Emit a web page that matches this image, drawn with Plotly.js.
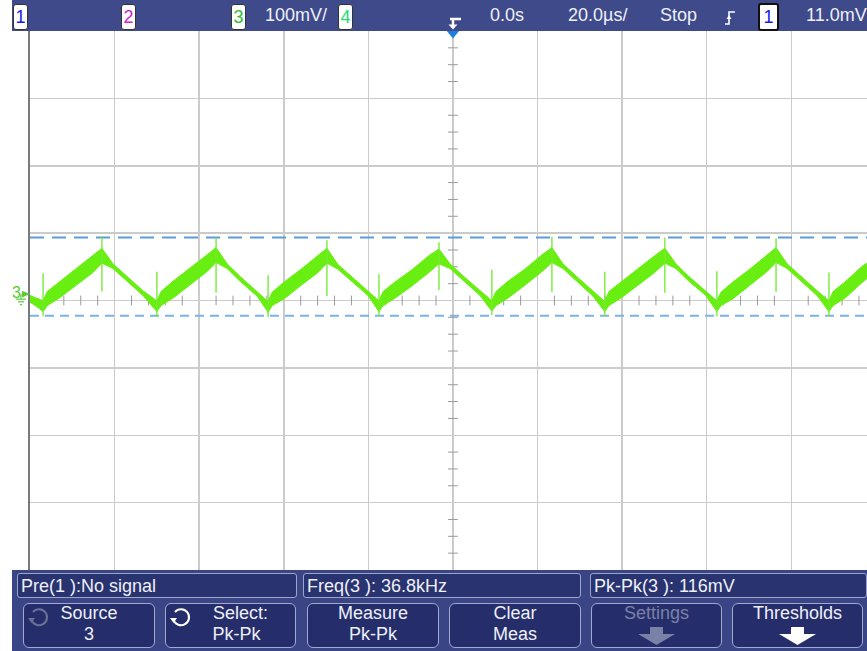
<!DOCTYPE html>
<html><head><meta charset="utf-8">
<script src="https://cdn.plot.ly/plotly-3.0.1.min.js"></script>
<style>
html,body{margin:0;padding:0;width:867px;height:651px;overflow:hidden;background:#fff;}
#wrap{position:relative;width:867px;height:651px;}
#plot{position:absolute;left:0;top:0;width:867px;height:651px;}
.ui{position:absolute;font-family:'Liberation Sans',Arial,sans-serif;color:#eef0f8;white-space:nowrap;}
.bar{position:absolute;}
.chbox{top:4px;height:24px;width:13px;background:#fff;border:1px solid #333;border-radius:3px;font-size:18px;line-height:24px;text-align:center;}
.tb{top:0;height:31px;line-height:31px;font-size:18px;}
.info{top:573px;height:25px;border:1px solid #9ea4cc;border-radius:3px;background:#29336f;font-size:18px;line-height:24px;padding-left:3px;box-sizing:border-box;}
.btn{top:603px;height:45px;border:1.5px solid #a3a9cf;border-radius:6px;background:#252e6a;box-sizing:border-box;}
.bl{font-size:18px;line-height:19px;height:19px;text-align:center;}
svg.ic{position:absolute;}
</style>
</head><body>
<div id="wrap">
<div id="plot"></div>

<div class="bar" style="left:12px;top:0;width:855px;height:31px;background:#3f4a8b;"></div>
<div class="ui chbox" style="left:13px;color:#1a1aee;">1</div>
<div class="ui chbox" style="left:121px;color:#cc22cc;">2</div>
<div class="ui chbox" style="left:231px;color:#33bb33;">3</div>
<div class="ui tb" style="left:265px;">100mV/</div>
<div class="ui chbox" style="left:338px;color:#22dd77;">4</div>
<svg class="ic" style="left:444px;top:14px;" width="20" height="18" viewBox="0 0 20 18">
  <path d="M6 5 H17 M9 5 V12" stroke="#fff" stroke-width="2.5" fill="none"/>
  <path d="M4.5 10.5 L13.5 10.5 L9 15.5 Z" fill="#fff"/>
</svg>
<div class="ui tb" style="left:490px;">0.0s</div>
<div class="ui tb" style="left:568px;">20.0µs/</div>
<div class="ui tb" style="left:660px;">Stop</div>
<svg class="ic" style="left:722px;top:8px;" width="18" height="20" viewBox="0 0 18 20">
  <path d="M3 16 H7 V4 H13" stroke="#fff" stroke-width="1.6" fill="none"/>
  <path d="M4.5 11 L7 7 L9.5 11 Z" fill="#fff"/>
</svg>
<div class="ui chbox" style="left:758px;width:17px;border:2px solid #111;top:3px;color:#1a1aee;">1</div>
<div class="ui tb" style="left:806px;">11.0mV</div>

<div class="bar" style="left:12px;top:570px;width:855px;height:81px;background:#3a4585;"></div>
<div class="ui info" style="left:17px;width:280px;">Pre(1 ):No signal</div>
<div class="ui info" style="left:303px;width:278px;">Freq(3 ): 36.8kHz</div>
<div class="ui info" style="left:590px;width:277px;">Pk-Pk(3 ): 116mV</div>

<div class="btn ui" style="left:23px;width:132px;"></div>
<div class="btn ui" style="left:165px;width:131px;"></div>
<div class="btn ui" style="left:307px;width:132px;"></div>
<div class="btn ui" style="left:449px;width:132px;"></div>
<div class="btn ui" style="left:591px;width:131px;"></div>
<div class="btn ui" style="left:732px;width:131px;"></div>

<div class="ui bl" style="left:23px;width:132px;top:604px;">Source</div>
<div class="ui bl" style="left:23px;width:132px;top:625px;">3</div>
<div class="ui bl" style="left:185px;width:111px;top:604px;">Select:</div>
<div class="ui bl" style="left:185px;width:103px;top:625px;">Pk-Pk</div>
<div class="ui bl" style="left:307px;width:132px;top:604px;">Measure</div>
<div class="ui bl" style="left:307px;width:132px;top:625px;">Pk-Pk</div>
<div class="ui bl" style="left:449px;width:132px;top:604px;">Clear</div>
<div class="ui bl" style="left:449px;width:132px;top:625px;">Meas</div>
<div class="ui bl" style="left:591px;width:131px;top:604px;color:#7a80a8;">Settings</div>
<div class="ui bl" style="left:732px;width:131px;top:604px;">Thresholds</div>

<svg class="ic" style="left:27px;top:606px;" width="24" height="22" viewBox="0 0 24 22">
  <path d="M6 6 A8 8 0 1 1 4.5 14" stroke="#6a7098" stroke-width="2" fill="none"/>
  <path d="M1 12 L8 12 L4.5 17 Z" fill="#6a7098"/>
</svg>
<svg class="ic" style="left:169px;top:606px;" width="24" height="22" viewBox="0 0 24 22">
  <path d="M6 6 A8 8 0 1 1 4.5 14" stroke="#fff" stroke-width="2" fill="none"/>
  <path d="M1 12 L8 12 L4.5 17 Z" fill="#fff"/>
</svg>
<svg class="ic" style="left:637px;top:626px;" width="40" height="20" viewBox="0 0 40 20">
  <path d="M13 1 H26 V8 H38 L19.5 19 L1 8 H13 Z" fill="#7a80a8"/>
</svg>
<svg class="ic" style="left:778px;top:626px;" width="40" height="20" viewBox="0 0 40 20">
  <path d="M13 1 H26 V8 H38 L19.5 19 L1 8 H13 Z" fill="#ffffff"/>
</svg>
</div>

<script>
// ---- data (time in µs, voltage in mV relative to channel-3 ground) ----
var envTime = [-100, -98.5,
 -96.9, -95.9, -93.1, -89.1, -85.1, -83.0, -80.4, -77.3, -73.3,
 -70.0, -69.0, -66.2, -62.2, -58.2, -56.0, -53.4, -50.3, -46.3,
 -43.7, -42.7, -39.9, -35.9, -31.9, -29.8, -27.2, -24.1, -20.1,
 -17.5, -16.5, -13.7, -9.7, -5.7, -3.3, -0.7, 2.4, 6.4,
 9.2, 10.2, 13.0, 17.0, 21.0, 23.4, 26.0, 29.1, 33.1,
 35.9, 36.9, 39.7, 43.7, 47.7, 50.1, 52.7, 55.8, 59.8,
 62.4, 63.4, 66.2, 70.2, 74.2, 76.4, 79.0, 82.1, 86.1,
 88.9, 89.9, 92.7, 96.7, 97.9];
var envUpper = [-2, -6,
 -10, 4, 18, 37, 58, 68, 45, 27, 5,
 -10, 4, 19, 38, 58, 69, 45, 26, 4,
 -11, 3, 18, 37, 57, 68, 44, 27, 5,
 -10, 4, 18, 36, 57, 67, 45, 27, 5,
 -10, 4, 19, 37, 58, 69, 45, 27, 4,
 -11, 4, 18, 37, 57, 68, 45, 26, 5,
 -10, 3, 18, 37, 58, 69, 45, 27, 5,
 -10, 4, 18, 41, 46];
var envLower = [-12, -18,
 -26, -17, -6, 13, 32, 46, 38, 20, -2,
 -26, -17, -6, 14, 33, 47, 38, 19, -3,
 -27, -17, -7, 13, 32, 46, 37, 20, -2,
 -26, -17, -6, 12, 32, 45, 38, 20, -2,
 -25, -17, -6, 13, 33, 47, 38, 20, -3,
 -26, -17, -6, 13, 32, 46, 38, 19, -2,
 -26, -17, -7, 13, 33, 47, 38, 20, -2,
 -26, -17, -6, 17, 23];
var spikeTime = [-96.9, -83.0, -70.0, -56.0, -43.7, -29.8, -17.5, -3.3, 9.2, 23.4, 35.9, 50.1, 62.4, 76.4, 88.9];
var spikeTop  = [31, 86, 33, 84, 28, 80, 30, 77, 36, 85, 33, 84, 34, 83, 32];
var spikeBot  = [-33, 4, -34, 2, -34, -3, -33, 6, -31, 3, -33, 2, -33, 3, -33];
var thrUpper = 84;
var thrLower = -32;
var xRange = [-100, 97.9];      // 20 µs/div, trigger at 0.0 s
var yRange = [-409.5, 390.5];   // 100 mV/div, 8 divisions
var yCenter = -9.5;

// ---- build traces ----
var polyX = envTime.concat(envTime.slice().reverse());
var polyY = envUpper.concat(envLower.slice().reverse());
var traces = [];
var mtX = [], mtY = [];
for (var t = -96; t < 98; t += 4) { if (Math.abs(t % 20) > 0.01) { mtX.push(t); mtY.push(yCenter); } }
var mvX = [], mvY = [];
for (var v = yCenter - 375; v < yRange[1]; v += 25) { if (Math.abs(((v - yCenter) % 100)) > 0.01) { mvX.push(0); mvY.push(v); } }
traces.push({x: mtX, y: mtY, mode: 'markers', type: 'scatter', hoverinfo: 'skip',
  marker: {symbol: 'line-ns', size: 7, line: {width: 1, color: '#9a9a9a'}}});
traces.push({x: mvX, y: mvY, mode: 'markers', type: 'scatter', hoverinfo: 'skip',
  marker: {symbol: 'line-ew', size: 7, line: {width: 1, color: '#9a9a9a'}}});
traces.push({x: xRange, y: [thrUpper, thrUpper], mode: 'lines', type: 'scatter',
  line: {color: '#5d9bdb', width: 2, dash: '14px,8px'}});
traces.push({x: xRange, y: [thrLower, thrLower], mode: 'lines', type: 'scatter',
  line: {color: '#7ab3ea', width: 2, dash: '9px,6px'}});
traces.push({x: polyX, y: polyY, mode: 'lines', type: 'scatter', fill: 'toself',
  fillcolor: '#69ee12', line: {color: '#69ee12', width: 1}});
var sx = [], sy = [];
for (var i = 0; i < spikeTime.length; i++) {
  sx.push(spikeTime[i], spikeTime[i], null);
  sy.push(spikeTop[i], spikeBot[i], null);
}
traces.push({x: sx, y: sy, mode: 'lines', type: 'scatter', connectgaps: false,
  line: {color: 'rgba(115,235,50,0.9)', width: 1.5}});

var px = function (p) { return (p - 30) / 837; };
var layout = {
  width: 867, height: 651,
  margin: {l: 30, r: 0, t: 31, b: 81, pad: 0},
  paper_bgcolor: '#ffffff', plot_bgcolor: '#ffffff',
  showlegend: false,
  xaxis: {range: xRange, tick0: -100, dtick: 20, showgrid: true, gridcolor: '#cbcbcb', gridwidth: 1.5,
    showticklabels: false, ticks: '', zeroline: false, showline: false, fixedrange: true},
  yaxis: {range: yRange, tick0: yCenter, dtick: 100, showgrid: true, gridcolor: '#cbcbcb', gridwidth: 1.5,
    showticklabels: false, ticks: '', zeroline: false, showline: true, linecolor: '#7a7a7a', linewidth: 2,
    mirror: false, fixedrange: true},
  shapes: [
    {type: 'path', xref: 'x', yref: 'paper', path: 'M -1.45 1 L 1.45 1 L 0 0.986 Z',
      fillcolor: '#1f7fe0', line: {width: 0}, layer: 'above'},
    {type: 'path', xref: 'paper', yref: 'y',
      path: 'M ' + px(22) + ' 5 L ' + px(30) + ' 0 L ' + px(22) + ' -5 Z',
      fillcolor: '#5ccc33', line: {width: 0}, layer: 'above'},
    {type: 'line', xref: 'paper', yref: 'y', x0: px(21), x1: px(21), y0: 0, y1: -7,
      line: {color: '#5ccc33', width: 1.2}},
    {type: 'line', xref: 'paper', yref: 'y', x0: px(16), x1: px(26), y0: -7.5, y1: -7.5,
      line: {color: '#5ccc33', width: 1.2}},
    {type: 'line', xref: 'paper', yref: 'y', x0: px(18), x1: px(24), y0: -11.5, y1: -11.5,
      line: {color: '#5ccc33', width: 1.2}},
    {type: 'line', xref: 'paper', yref: 'y', x0: px(20), x1: px(22), y0: -15.5, y1: -15.5,
      line: {color: '#5ccc33', width: 1.2}}
  ],
  annotations: [
    {text: '3', xref: 'paper', yref: 'y', x: px(16), y: 3, showarrow: false,
      xanchor: 'center', yanchor: 'middle',
      font: {family: 'Liberation Sans, Arial, sans-serif', size: 16, color: '#5ccc33'}}
  ]
};
Plotly.newPlot('plot', traces, layout, {staticPlot: true, displayModeBar: false});
</script>
</body></html>
